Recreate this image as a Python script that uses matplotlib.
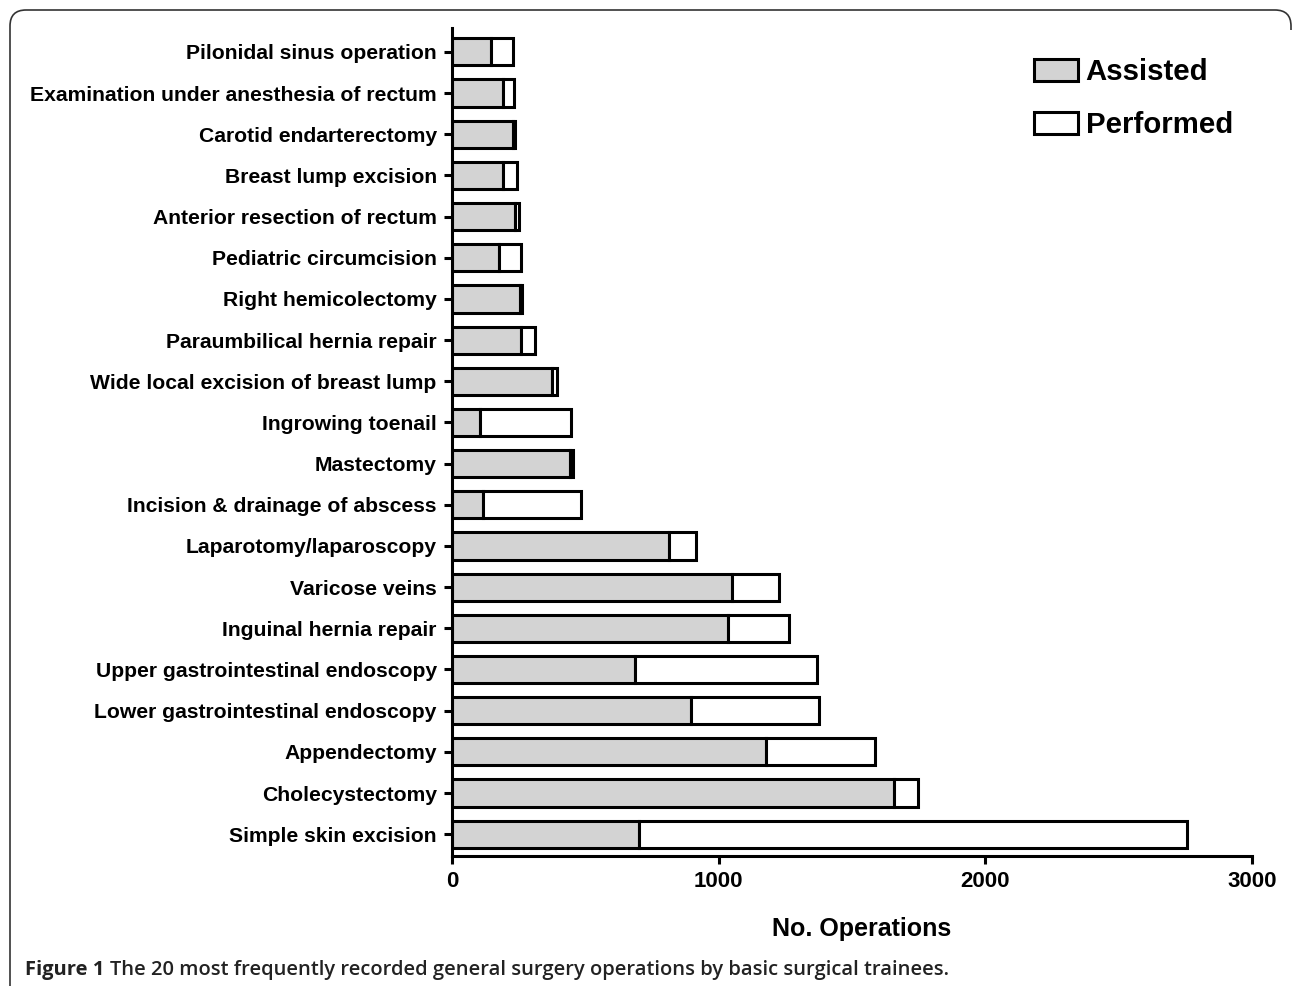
import numpy as np
import matplotlib
matplotlib.use("Agg")
import matplotlib.pyplot as plt
from matplotlib.patches import Patch, PathPatch
from matplotlib.path import Path
from matplotlib.transforms import IdentityTransform

# operations, bottom to top
operations = [
    "Simple skin excision",
    "Cholecystectomy",
    "Appendectomy",
    "Lower gastrointestinal endoscopy",
    "Upper gastrointestinal endoscopy",
    "Inguinal hernia repair",
    "Varicose veins",
    "Laparotomy/laparoscopy",
    "Incision & drainage of abscess",
    "Mastectomy",
    "Ingrowing toenail",
    "Wide local excision of breast lump",
    "Paraumbilical hernia repair",
    "Right hemicolectomy",
    "Pediatric circumcision",
    "Anterior resection of rectum",
    "Breast lump excision",
    "Carotid endarterectomy",
    "Examination under anesthesia of rectum",
    "Pilonidal sinus operation",
]
assisted = [701, 1658, 1178, 896, 686, 1035, 1050, 814, 116, 443,
            105, 375, 259, 255, 176, 236, 191, 230, 191, 146]
performed = [2055, 90, 408, 480, 683, 229, 176, 101, 368, 11,
             341, 19, 52, 7, 83, 15, 53, 8, 42, 83]

xticks = [0, 1000, 2000, 3000]

W, H = 1292, 986
fig = plt.figure(figsize=(W / 100, H / 100), dpi=100)
ax = fig.add_axes([452 / W, 1 - 856 / H, 800 / W, 828 / H])

y = np.arange(len(operations))
lw = 2.2
ax.barh(y, assisted, height=0.66, color="#d3d3d3", edgecolor="black", linewidth=lw)
ax.barh(y, performed, left=assisted, height=0.66, color="white", edgecolor="black", linewidth=lw)

ax.set_xlim(0, 3000)
ax.set_ylim(-0.53, 19.58)
ax.set_xticks(xticks)
ax.set_xticklabels([str(t) for t in xticks], fontsize=16, fontweight="bold",
                   family=["Liberation Sans Narrow", "Liberation Sans"])
ax.set_yticks(y)
ax.set_yticklabels(operations, fontsize=15.2, fontweight="bold", family="Liberation Sans")

for s in ["top", "right"]:
    ax.spines[s].set_visible(False)
for s in ["left", "bottom"]:
    ax.spines[s].set_linewidth(2.2)
ax.tick_params(axis="y", length=6, width=2.2, pad=5)
ax.tick_params(axis="x", length=6, width=2.2, pad=5)

ax.set_xlabel("No. Operations", fontsize=18, fontweight="bold",
              family=["Liberation Sans Narrow", "Liberation Sans"])
ax.xaxis.set_label_coords(862 / W, 1 - 929 / H, transform=fig.transFigure)
ax.xaxis.label.set_va("center")

handles = [Patch(facecolor="#d3d3d3", edgecolor="black", linewidth=2.2, label="Assisted"),
           Patch(facecolor="white", edgecolor="black", linewidth=2.2, label="Performed")]
fig.legend(handles=handles, loc="upper left", bbox_to_anchor=(1034 / W, 1 - 58 / H),
           frameon=False, prop={"family": "Liberation Sans", "weight": "bold", "size": 21.2},
           handlelength=1.5, handleheight=0.75, handletextpad=0.25, labelspacing=0.85,
           borderpad=0, borderaxespad=0)

# caption
cap1 = fig.text(25 / W, 1 - 975 / H, "Figure 1", fontsize=14.5, fontweight="bold",
                family="Open Sans", color="#222222", va="baseline")
fig.canvas.draw()
bb = cap1.get_window_extent()
fig.text((bb.x1 + 6) / W, 1 - 975 / H,
         "The 20 most frequently recorded general surgery operations by basic surgical trainees.",
         fontsize=14.5, fontweight="semibold", family="Open Sans", color="#222222",
         va="baseline")

# open rounded frame: left side, top side, top-right corner only
pts = [(10, 990), (10, 26), (10, 10), (26, 10), (1275, 10), (1291, 10), (1291, 26), (1291, 30)]
codes = [Path.MOVETO, Path.LINETO, Path.CURVE3, Path.CURVE3,
         Path.LINETO, Path.CURVE3, Path.CURVE3, Path.LINETO]
frame = Path([(px, H - py) for px, py in pts], codes)
fig.patches.append(PathPatch(frame, transform=IdentityTransform(), facecolor="none",
                             edgecolor="#333333", linewidth=1.2))

fig.savefig("out.png", dpi=100)
